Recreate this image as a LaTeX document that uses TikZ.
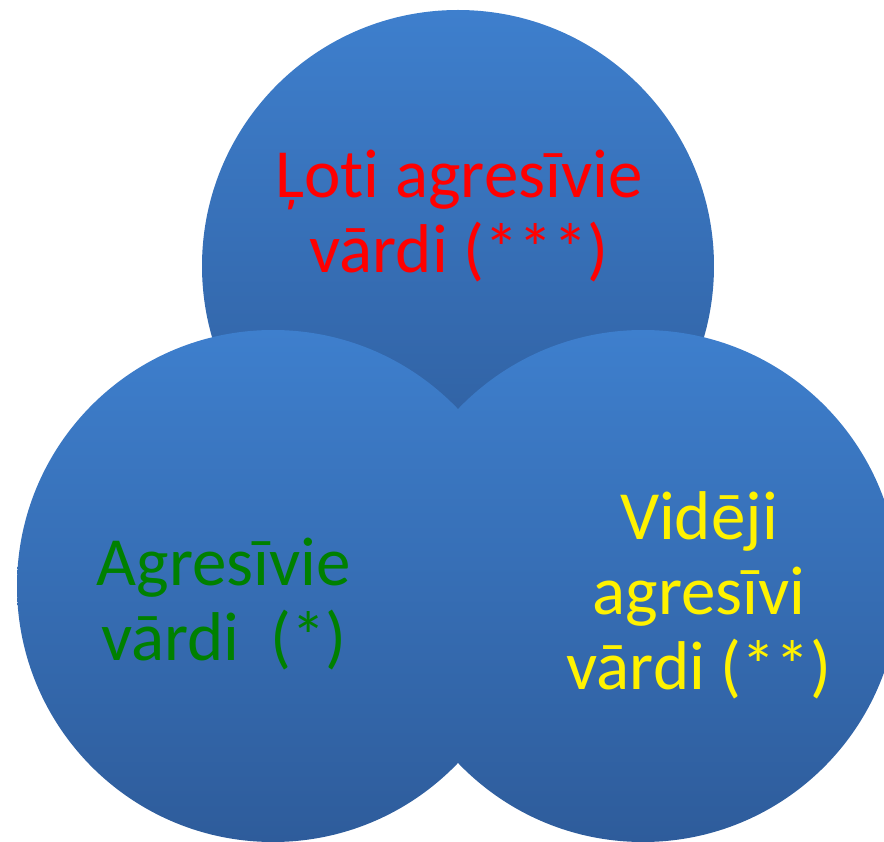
\documentclass[tikz,border=0pt]{standalone}
\usepackage{fontspec}
\setmainfont[Ligatures=NoCommon]{Carlito}
\definecolor{blueTop}{RGB}{62,127,205}
\definecolor{blueBot}{RGB}{46,92,155}
\definecolor{wordGreen}{RGB}{0,128,0}
\begin{document}
\begin{tikzpicture}[x=1pt,y=-1pt,
		ring/.style={circle,inner sep=0pt,minimum size=512pt,top color=blueTop,bottom color=blueBot,draw=none},
		words/.style={align=center,inner sep=0pt,font=\fontsize{69}{75}\selectfont}]
	\useasboundingbox (0,0) rectangle (884,842);
	\clip (0,0) rectangle (884,842);
	\node[ring] (top) at (458,266) {};
	\node[ring] (left) at (273,586) {};
	\node[ring] (right) at (643,586) {};
	\node[words,text=red] (topText) at (459,216) {Ļoti agresīvie\\vārdi (***)};
	\node[words,text=wordGreen] (leftText) at (224,604) {Agresīvie\\vārdi~~(*)};
	\node[words,text=yellow] (rightText) at (699,595) {Vidēji\\agresīvi\\vārdi (**)};
\end{tikzpicture}
\end{document}
